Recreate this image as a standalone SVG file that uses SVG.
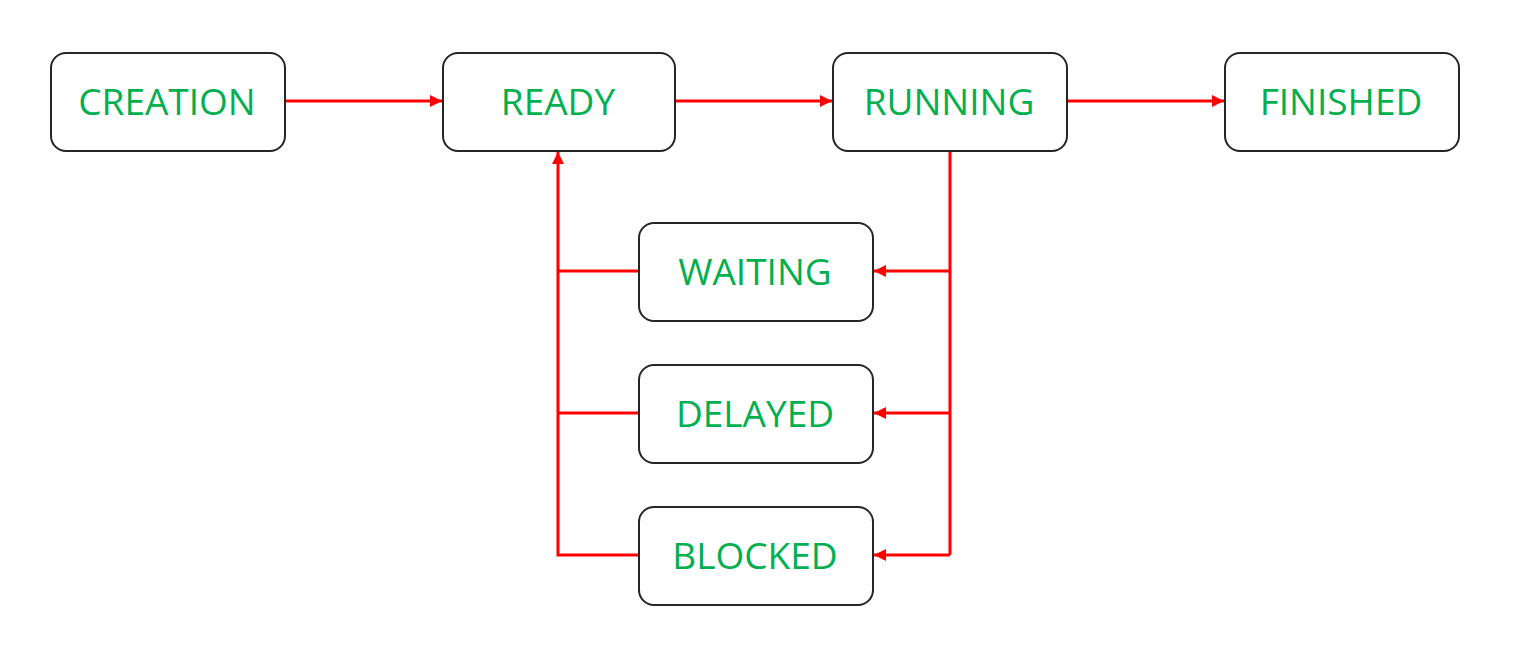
<svg xmlns="http://www.w3.org/2000/svg" width="1534" height="660" viewBox="0 0 1534 660">
<style>
.box{fill:#fff;stroke:#262626;stroke-width:2}
.lbl{font-family:"Open Sans","Noto Sans",sans-serif;font-size:37px;fill:#00B050;text-anchor:middle}
.ln{fill:none;stroke:#FF0000;stroke-width:3}
</style>
<defs>
<marker id="ah" viewBox="0 0 10 10" refX="10" refY="5" markerWidth="4" markerHeight="4" orient="auto" markerUnits="strokeWidth">
<path d="M0,0 L10,5 L0,10 z" fill="#FF0000"/>
</marker>
</defs>
<rect width="1534" height="660" fill="#fff"/>
<g id="connectors">
<path class="ln" d="M285,101 H442" marker-end="url(#ah)"/>
<path class="ln" d="M675,101 H832" marker-end="url(#ah)"/>
<path class="ln" d="M1067,101 H1224" marker-end="url(#ah)"/>
<path class="ln" d="M950,151 V555"/>
<path class="ln" d="M950,271 H874" marker-end="url(#ah)"/>
<path class="ln" d="M950,413 H874" marker-end="url(#ah)"/>
<path class="ln" d="M950,555 H874" marker-end="url(#ah)"/>
<path class="ln" d="M639,555 H558 V152" marker-end="url(#ah)"/>
<path class="ln" d="M639,271 H558"/>
<path class="ln" d="M639,413 H558"/>
</g>
<g id="creation"><rect class="box" x="51" y="53" width="234" height="98" rx="15"/><text class="lbl" x="167" y="115">CREATION</text></g>
<g id="ready"><rect class="box" x="443" y="53" width="232" height="98" rx="15"/><text class="lbl" x="558" y="115">READY</text></g>
<g id="running"><rect class="box" x="833" y="53" width="234" height="98" rx="15"/><text class="lbl" x="949" y="115">RUNNING</text></g>
<g id="finished"><rect class="box" x="1225" y="53" width="234" height="98" rx="15"/><text class="lbl" x="1341" y="115">FINISHED</text></g>
<g id="waiting"><rect class="box" x="639" y="223" width="234" height="98" rx="15"/><text class="lbl" x="755" y="285">WAITING</text></g>
<g id="delayed"><rect class="box" x="639" y="365" width="234" height="98" rx="15"/><text class="lbl" x="755" y="427">DELAYED</text></g>
<g id="blocked"><rect class="box" x="639" y="507" width="234" height="98" rx="15"/><text class="lbl" x="755" y="569">BLOCKED</text></g>
</svg>
